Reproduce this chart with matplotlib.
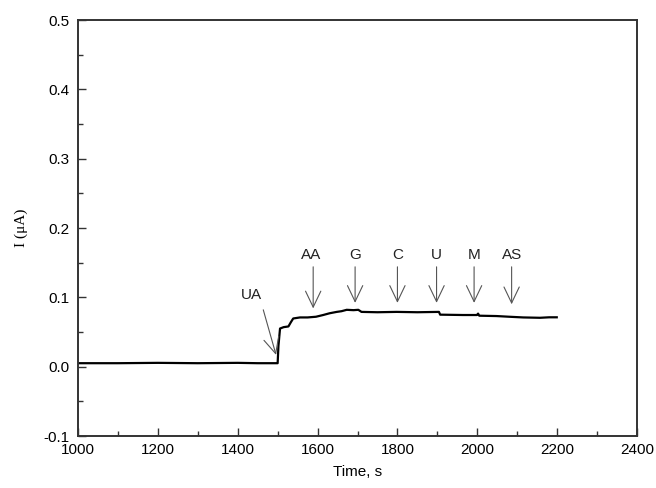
import matplotlib
matplotlib.use("Agg")
import matplotlib.pyplot as plt
from matplotlib.ticker import MultipleLocator

plt.rcParams['font.family'] = ['Liberation Sans', 'DejaVu Sans']
plt.rcParams['axes.unicode_minus'] = False

time_s = [1000, 1100, 1200, 1300, 1400, 1450, 1500, 1502, 1506, 1515, 1527, 1533, 1539, 1556,
          1575, 1596, 1614, 1630, 1648, 1660, 1673, 1690, 1702, 1710, 1750, 1798, 1850,
          1904, 1907, 1930, 1964, 1999, 2002, 2005, 2048, 2080, 2115, 2157, 2180, 2199]
current_uA = [0.005, 0.005, 0.0055, 0.005, 0.0055, 0.005, 0.005, 0.03, 0.055, 0.057, 0.058, 0.064, 0.0695, 0.071,
              0.071, 0.072, 0.0745, 0.077, 0.079, 0.080, 0.082, 0.0815, 0.082, 0.079, 0.0785, 0.079, 0.0785,
              0.079, 0.075, 0.0748, 0.0745, 0.0745, 0.0765, 0.0735, 0.073, 0.072, 0.071, 0.0705, 0.0712, 0.0712]

labels = ["UA", "AA", "G", "C", "U", "M", "AS"]
label_t = [1435, 1585, 1694, 1800, 1898, 1992, 2086]
label_v = [0.103, 0.161, 0.161, 0.161, 0.161, 0.161, 0.161]
arrow_start_t = [1464, 1589, 1694, 1800, 1898, 1992, 2086]
arrow_start_v = [0.082, 0.144, 0.144, 0.144, 0.144, 0.144, 0.144]
arrow_end_t = [1496, 1589, 1694, 1800, 1898, 1992, 2086]
arrow_end_v = [0.017, 0.084, 0.092, 0.092, 0.092, 0.092, 0.090]

fig = plt.figure(figsize=(6.56, 4.88), dpi=100)
ax = fig.add_axes([78/656, 1-436/488, (637-78)/656, (436-20)/488])

ax.plot(time_s, current_uA, color='black', lw=1.6)

for lab, lt, lv, st, sv, et, ev in zip(labels, label_t, label_v, arrow_start_t, arrow_start_v, arrow_end_t, arrow_end_v):
    ax.text(lt, lv, lab, ha='center', va='center', fontsize=11, color='#222222')
    ax.annotate('', xy=(et, ev), xytext=(st, sv),
                arrowprops=dict(arrowstyle='->,head_length=1.15,head_width=0.55', color='#555555', lw=0.8,
                                shrinkA=0, shrinkB=0))

ax.set_xlim(1000, 2400)
ax.set_ylim(-0.1, 0.5)
ax.xaxis.set_major_locator(MultipleLocator(200))
ax.xaxis.set_minor_locator(MultipleLocator(100))
ax.yaxis.set_major_locator(MultipleLocator(0.1))
ax.yaxis.set_minor_locator(MultipleLocator(0.05))
ax.yaxis.set_major_formatter(matplotlib.ticker.FormatStrFormatter('%.1f'))

ax.tick_params(which='both', direction='in', top=False, right=False, labelsize=11, color='#333333')
ax.tick_params(which='major', length=6, width=1)
ax.tick_params(which='minor', length=3.5, width=1)
ax.tick_params(axis='y', which='major', pad=6)
ax.tick_params(axis='x', which='major', pad=5)
for sp in ax.spines.values():
    sp.set_linewidth(1.4)
    sp.set_color('#333333')

ax.set_xlabel('Time, s', fontsize=11, labelpad=6)
ax.set_ylabel('I (μA)', fontsize=11, family=['Liberation Serif', 'DejaVu Serif'], labelpad=11)

fig.savefig('out.png', dpi=100)
